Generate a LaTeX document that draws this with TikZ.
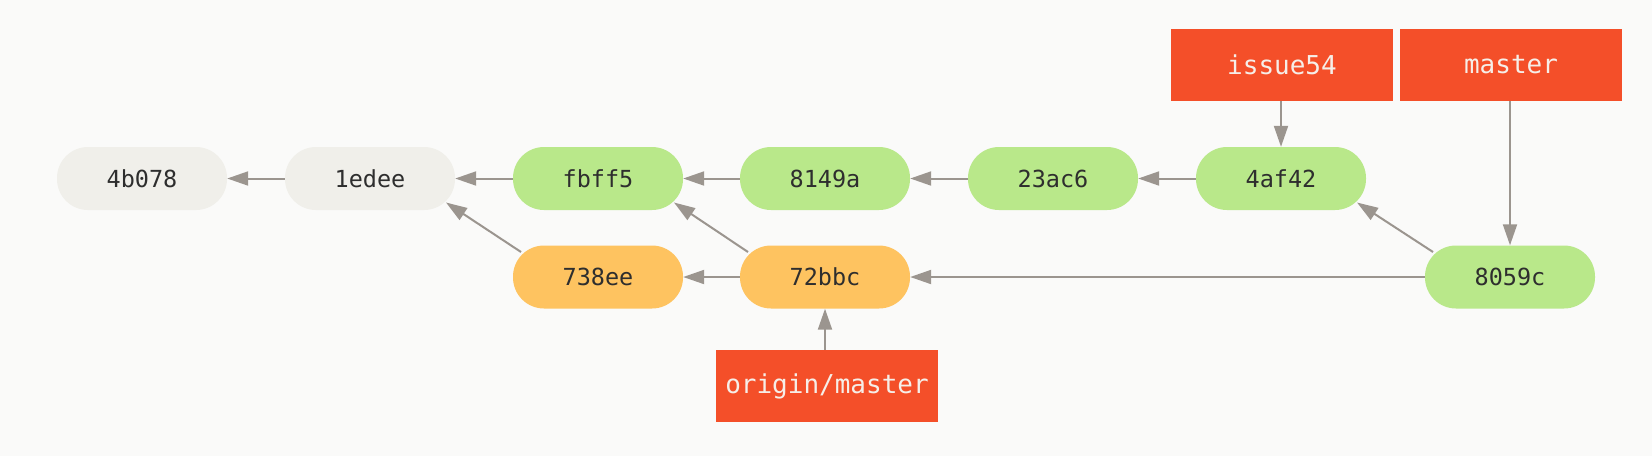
\documentclass[tikz,border=0pt]{standalone}
\usepackage{fontspec}
\newfontfamily\gitmono{DejaVu Sans Mono}
\usetikzlibrary{arrows.meta,calc}
\definecolor{bgc}{HTML}{FAFAF9}
\definecolor{greyc}{HTML}{F0EFEA}
\definecolor{greenc}{HTML}{B9E88A}
\definecolor{orangec}{HTML}{FEC360}
\definecolor{redc}{HTML}{F44F29}
\definecolor{arrowc}{HTML}{9B958F}
\definecolor{txtc}{HTML}{2E2E2E}
\definecolor{lbltxt}{HTML}{F6EEE8}
\tikzset{
  commit/.style={rectangle, rounded corners=31pt, minimum width=170pt, minimum height=63pt,
    inner sep=0pt, text=txtc, font=\gitmono\fontsize{23.5}{23.5}\selectfont},
  oldc/.style={commit, fill=greyc},
  newc/.style={commit, fill=greenc},
  remc/.style={commit, fill=orangec},
  ref/.style={rectangle, fill=redc, minimum width=222pt, minimum height=72pt, inner sep=0pt,
    text=lbltxt, font=\gitmono\fontsize{26}{26}\selectfont},
  conn/.style={draw=arrowc, line width=2pt, -{Triangle[length=21pt,width=14pt]}}
}
\begin{document}
\begin{tikzpicture}[x=1pt,y=-1pt]
\fill[bgc] (0,0) rectangle (1652,456);
\useasboundingbox (0,0) rectangle (1652,456);
\node[oldc] (c4b) at (142,178.5) {4b078};
\node[oldc] (c1e) at (370,178.5) {1edee};
\node[newc] (cfb) at (598,178.5) {fbff5};
\node[newc] (c81) at (825,178.5) {8149a};
\node[newc] (c23) at (1053,178.5) {23ac6};
\node[newc] (c4a) at (1281,178.5) {4af42};
\node[remc] (c73) at (598,277) {738ee};
\node[remc] (c72) at (825,277) {72bbc};
\node[newc] (c80) at (1510,277) {8059c};
\node[ref] (issue) at (1282,65) {issue54};
\node[ref] (master) at (1511,65) {master};
\node[ref] (origin) at (827,386) {origin/master};
\draw[conn] (c1e) -- (c4b);
\draw[conn] (cfb) -- (c1e);
\draw[conn] (c81) -- (cfb);
\draw[conn] (c23) -- (c81);
\draw[conn] (c4a) -- (c23);
\draw[conn] (c72) -- (c73);
\draw[conn] (c80) -- (c72);
\draw[conn] ($(c73.center)+(-77,-25)$) -- ($(c1e.center)+(76,24)$);
\draw[conn] ($(c72.center)+(-77,-25)$) -- ($(cfb.center)+(76,24)$);
\draw[conn] ($(c80.center)+(-77,-25)$) -- ($(c4a.center)+(76,24)$);
\draw[conn] (issue.south -| c4a.north) -- (c4a.north);
\draw[conn] (master.south -| c80.north) -- (c80.north);
\draw[conn] (origin.north -| c72.south) -- (c72.south);
\end{tikzpicture}
\end{document}
